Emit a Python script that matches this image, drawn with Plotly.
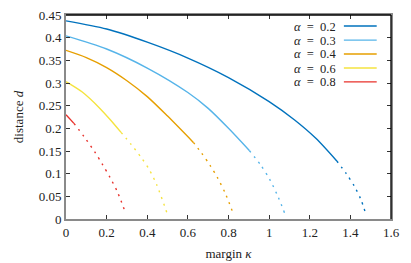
import plotly.graph_objects as go

# ---- data ----
alphas = ["0.2", "0.3", "0.4", "0.6", "0.8"]
colors = ["#0072BD", "#56B4E9", "#E69F00", "#F5E33F", "#E8302A"]

k02_solid = [0, 0.2, 0.4, 0.6, 0.8, 1.0, 1.124, 1.23, 1.333]
d02_solid = [0.437, 0.419, 0.390, 0.355, 0.312, 0.259, 0.219, 0.178, 0.128]
k02_dot = [1.333, 1.38, 1.42, 1.45, 1.475]
d02_dot = [0.128, 0.1, 0.072, 0.045, 0.013]

k03_solid = [0, 0.2, 0.4, 0.6, 0.7, 0.8, 0.9026]
d03_solid = [0.404, 0.375, 0.333, 0.279, 0.244, 0.200, 0.151]
k03_dot = [0.9026, 0.96, 1.004, 1.045, 1.078]
d03_dot = [0.151, 0.118, 0.0864, 0.048, 0.011]

k04_solid = [0, 0.1, 0.2, 0.3, 0.4, 0.5, 0.627]
d04_solid = [0.372, 0.356, 0.334, 0.305, 0.270, 0.227, 0.169]
k04_dot = [0.627, 0.668, 0.71, 0.747, 0.785, 0.821]
d04_dot = [0.169, 0.145, 0.118, 0.09, 0.056, 0.0145]

k06_solid = [0, 0.08, 0.167, 0.217, 0.271]
d06_solid = [0.303, 0.28, 0.244, 0.2195, 0.191]
k06_dot = [0.271, 0.32, 0.373, 0.41, 0.447, 0.5]
d06_dot = [0.191, 0.165, 0.134, 0.109, 0.075, 0.0095]

k08_solid = [0, 0.039]
d08_solid = [0.230, 0.211]
k08_dot = [0.039, 0.09, 0.143, 0.18, 0.217, 0.255, 0.292]
d08_dot = [0.211, 0.181, 0.147, 0.12, 0.0915, 0.058, 0.0145]

x_ticks = [0, 0.2, 0.4, 0.6, 0.8, 1.0, 1.2, 1.4, 1.6]
x_ticktext = ["0", "0.2", "0.4", "0.6", "0.8", "1", "1.2", "1.4", "1.6"]
y_ticks = [0, 0.05, 0.1, 0.15, 0.2, 0.25, 0.3, 0.35, 0.4, 0.45]
y_ticktext = ["0", "0.05", "0.1", "0.15", "0.2", "0.25", "0.3", "0.35", "0.4", "0.45"]

series = [
    (k02_solid, d02_solid, k02_dot, d02_dot),
    (k03_solid, d03_solid, k03_dot, d03_dot),
    (k04_solid, d04_solid, k04_dot, d04_dot),
    (k06_solid, d06_solid, k06_dot, d06_dot),
    (k08_solid, d08_solid, k08_dot, d08_dot),
]

FONT = "'Liberation Serif', 'DejaVu Serif', serif"
FS = 13

fig = go.Figure()
for (ks, ds, kd, dd), col, a in zip(series, colors, alphas):
    fig.add_trace(go.Scatter(x=ks, y=ds, mode="lines", showlegend=False, hoverinfo="skip",
                             line=dict(color=col, width=1.4, shape="spline", smoothing=0.8)))
    fig.add_trace(go.Scatter(x=kd, y=dd, mode="lines", showlegend=False, hoverinfo="skip",
                             line=dict(color=col, width=1.4, shape="spline", smoothing=0.8,
                                       dash="2px,5px")))

# custom legend (text left, line sample right)
leg_y = [0.946, 0.877, 0.809, 0.740, 0.672]
shapes = []
annotations = []
for a, col, yy in zip(alphas, colors, leg_y):
    annotations.append(dict(xref="paper", yref="paper", x=0.835, y=yy, xanchor="right",
                            yanchor="middle", showarrow=False, borderpad=0, height=13,
                            text="<i>α</i>\u2002=\u2002" + a,
                            font=dict(family=FONT, size=12.5, color="#222")))
    shapes.append(dict(type="line", xref="paper", yref="paper", x0=0.855, x1=0.956,
                       y0=yy, y1=yy, line=dict(color=col, width=1.4)))

# black top / right border
shapes.append(dict(type="line", xref="paper", yref="paper", x0=0, x1=1, y0=1, y1=1,
                   line=dict(color="black", width=1.3), layer="above"))
shapes.append(dict(type="line", xref="paper", yref="paper", x0=1, x1=1, y0=0, y1=1,
                   line=dict(color="black", width=1.3), layer="above"))

fig.update_layout(
    width=411, height=263,
    margin=dict(l=66, r=20, t=15, b=44, autoexpand=False),
    paper_bgcolor="white", plot_bgcolor="white",
    font=dict(family=FONT, size=FS, color="#222"),
    shapes=shapes, annotations=annotations,
    showlegend=False,
)
fig.update_xaxes(range=[0, 1.6], tickvals=x_ticks, ticktext=x_ticktext,
                 showgrid=False, zeroline=False, automargin=False,
                 showline=True, linecolor="#8a8a8a", linewidth=2, mirror="ticks",
                 ticks="inside", ticklen=4, tickcolor="#333", tickwidth=1,
                 title=dict(text="margin <i>κ</i>", font=dict(family=FONT, size=FS), standoff=10),
                 tickfont=dict(family=FONT, size=FS))
fig.update_yaxes(range=[0, 0.45], tickvals=y_ticks, ticktext=y_ticktext,
                 showgrid=False, zeroline=False, automargin=False,
                 showline=True, linecolor="#8a8a8a", linewidth=2, mirror="ticks",
                 ticks="inside", ticklen=4, tickcolor="#333", tickwidth=1,
                 title=dict(text="distance <i>d</i>", font=dict(family=FONT, size=FS), standoff=12),
                 tickfont=dict(family=FONT, size=FS))

fig.write_html("out.html", config={"displayModeBar": False},
               post_script="document.body.style.margin='0';document.body.style.padding='0';")
